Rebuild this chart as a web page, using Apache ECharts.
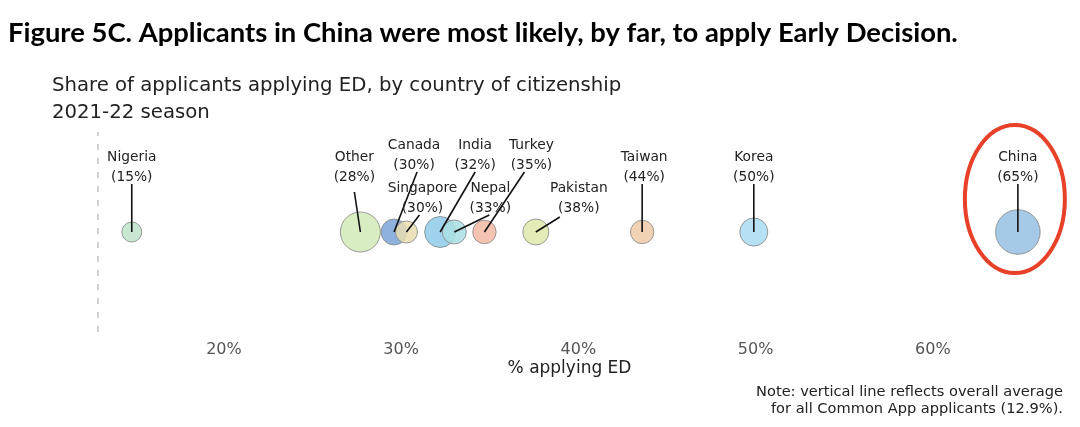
<!DOCTYPE html>
<html>
<head>
<meta charset="utf-8">
<script src="https://cdn.jsdelivr.net/npm/echarts@6/dist/echarts.min.js"></script>
<style>
html,body{margin:0;padding:0;background:#fff;}
#chart{width:1080px;height:427px;}
</style>
</head>
<body>
<div id="chart"></div>
<script>
// ---- data ----
const countries = ['Nigeria','Other','Canada','Singapore','India','Nepal','Turkey','Pakistan','Taiwan','Korea','China'];
const shareED   = [14.8, 27.7, 29.6, 30.3, 32.2, 33.0, 34.7, 37.6, 43.6, 49.9, 64.8];
// relative applicant volume (bubble area)
const volume    = [100, 400, 169, 121, 240, 144, 137, 169, 137, 196, 497];
const overallAverage = 12.9;
const tickValues = [20, 30, 40, 50, 60];
const highlightCountry = 'China';

// ---- styles / layout ----
const colors = ['#bde3c9','#d2eab9','#7aa3d8','#e9ddb0','#8ecbea','#a9dfe2','#f3b8a5','#dfe8aa','#efcaa8','#a9dbf1','#95c0e2'];
// label text offset (tx,ty) and leader-line start (lx,ly) relative to bubble center
const labelLayout = [
  {tx:0,  ty:-65, lx:0,  ly:-48},
  {tx:-6, ty:-65, lx:-6, ly:-40},
  {tx:20, ty:-77, lx:23, ly:-60},
  {tx:16, ty:-34, lx:13, ly:-17},
  {tx:35, ty:-77, lx:35, ly:-60},
  {tx:36, ty:-34, lx:35, ly:-17},
  {tx:47, ty:-77, lx:40, ly:-60},
  {tx:43, ty:-34, lx:24, ly:-15},
  {tx:2,  ty:-65, lx:0,  ly:-48},
  {tx:0,  ty:-65, lx:0,  ly:-48},
  {tx:0,  ty:-65, lx:0,  ly:-48}
];
const FONT = '"DejaVu Sans", sans-serif';
const TITLE = 'Figure 5C. Applicants in China were most likely, by far, to apply Early Decision.';

// fit title font size to the target width
const mctx = document.createElement('canvas').getContext('2d');
mctx.font = 'bold 100px Lato';
const titleSize = Math.min(30, 100 * 950 / mctx.measureText(TITLE).width);

const seriesData = countries.map((c, i) => [shareED[i], 0, volume[i], i]);

const chart = echarts.init(document.getElementById('chart'), null, {renderer:'canvas'});
chart.setOption({
  animation: false,
  backgroundColor: '#fff',
  graphic: [
    {type:'text', x: 8, y: 33, style:{text: TITLE, fontFamily:'Lato', fontWeight:'bold', fontSize: titleSize, fill:'#000', verticalAlign:'middle'}},
    {type:'text', x: 52, y: 99, style:{text:'Share of applicants applying ED, by country of citizenship\n2021-22 season', fontFamily:'DejaVu Sans', fontSize:19.7, fill:'#222', lineHeight: 27, verticalAlign:'middle'}},
    {type:'text', x: 1063, y: 401, style:{text:'Note: vertical line reflects overall average\nfor all Common App applicants (12.9%).', fontFamily:'DejaVu Sans', fontSize:14.6, fill:'#222', lineHeight: 17, align:'right', verticalAlign:'middle'}}
  ],
  grid: {left: 91, right: 32, top: 132, bottom: 95},
  xAxis: {
    type: 'value', min: 12.5, max: 66.5,
    axisLine: {show:false}, axisTick: {show:false}, splitLine: {show:false},
    axisLabel: {customValues: tickValues, formatter: '{value}%', color:'#555', fontFamily: FONT, fontSize: 16, margin: 10},
    name: '% applying ED', nameLocation: 'middle', nameGap: 28,
    nameTextStyle: {color:'#222', fontFamily: FONT, fontSize: 17}
  },
  yAxis: {type:'value', min:-1, max:1, show:false},
  series: [
    {
      type: 'custom',
      data: seriesData,
      z: 2,
      renderItem: function(params, api){
        const p = api.coord([api.value(0), api.value(1)]);
        const r = Math.sqrt(api.value(2));
        const i = api.value(3);
        return {type:'circle', shape:{cx:p[0], cy:p[1], r:r},
          style:{fill: colors[i], opacity: 0.85, stroke:'#8a8a8a', lineWidth:1}};
      },
      markLine: {
        silent: true, symbol: 'none', label: {show:false},
        lineStyle: {color:'#c4c4c4', type:[6,8], width:1.5},
        data: [{xAxis: overallAverage}]
      }
    },
    {
      type: 'custom',
      data: seriesData,
      z: 5,
      renderItem: function(params, api){
        const p = api.coord([api.value(0), api.value(1)]);
        const i = api.value(3);
        const L = labelLayout[i];
        const kids = [
          {type:'line', shape:{x1:p[0]+L.lx, y1:p[1]+L.ly, x2:p[0], y2:p[1]}, style:{stroke:'#111', lineWidth:1.6}},
          {type:'text', x:p[0]+L.tx, y:p[1]+L.ty, style:{text: countries[i] + '\n(' + Math.round(api.value(0)) + '%)', font:'13.8px ' + FONT, fill:'#222', align:'center', verticalAlign:'middle', lineHeight:20}}
        ];
        if (countries[i] === highlightCountry) {
          kids.push({type:'ellipse', shape:{cx:p[0]-3, cy:p[1]-33, rx:50, ry:74}, style:{fill:'none', stroke:'#e8412a', lineWidth:4}});
        }
        return {type:'group', children: kids};
      }
    }
  ]
});
</script>
</body>
</html>
